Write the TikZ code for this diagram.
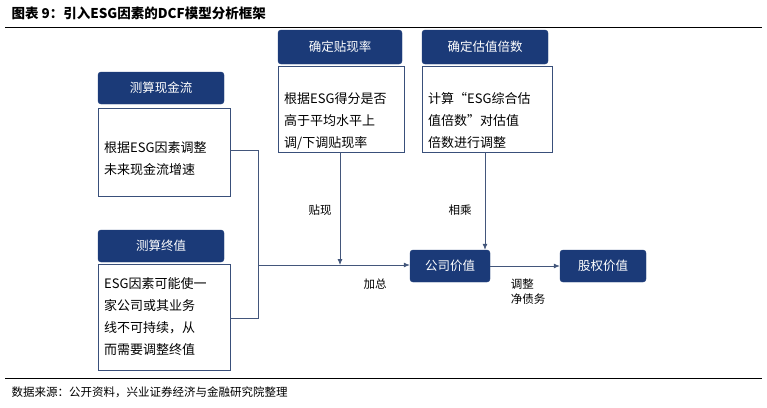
\documentclass[tikz,border=0pt]{standalone}
\usepackage{fontspec}
\setmainfont{Liberation Serif}
\newfontfamily\cjk{Noto Sans CJK SC}
\usetikzlibrary{arrows.meta}
\definecolor{navy}{HTML}{1B3A78}
\begin{document}
\begin{tikzpicture}[x=1pt,y=-1pt,
  hdr/.style={fill=navy,draw=navy,text=white,rounded corners=3pt,font=\cjk\fontsize{12.5}{14}\selectfont,inner sep=0pt},
  body/.style={draw=navy!70!gray,line width=0.6pt,fill=white,inner sep=0pt},
  vbox/.style={fill=navy,draw=navy,text=white,rounded corners=3pt,font=\cjk\fontsize{12.5}{14}\selectfont,inner sep=0pt,minimum height=32pt},
  lab/.style={font=\cjk\fontsize{11.5}{15}\selectfont,align=left},
  btxt/.style={align=left,anchor=north west,inner sep=0pt,font=\cjk\fontsize{13}{22}\selectfont},
  arr/.style={-{Latex[length=6pt,width=5pt]},draw=navy!60!gray,line width=0.8pt},
  ln/.style={draw=navy!60!gray,line width=0.8pt}]
\useasboundingbox (0,0) rectangle (767,407);
\node[anchor=west,font=\cjk\bfseries\fontsize{13.5}{15}\selectfont] (title) at (8,13) {图表 9：引入ESG因素的DCF模型分析框架};
\draw[line width=0.8pt] (5,27) -- (762,27);
\draw[line width=0.6pt] (5,378) -- (762,378);
\node[anchor=west,font=\cjk\fontsize{11.5}{13}\selectfont] (src) at (8,392) {数据来源：公开资料，兴业证券经济与金融研究院整理};
% cash flow
\node[body,minimum width=132pt,minimum height=88pt] (b1) at (164,152) {};
\node[btxt] (t1) at (104,141) {根据ESG因素调整\\未来现金流增速};
\node[hdr,minimum width=126pt,minimum height=32pt] (h1) at (161,88) {测算现金流};
% terminal
\node[body,minimum width=132pt,minimum height=106pt] (b2) at (164,317) {};
\node[btxt] (t2) at (104,277) {ESG因素可能使一\\家公司或其业务\\线不可持续，从\\而需要调整终值};
\node[hdr,minimum width=126pt,minimum height=32pt] (h2) at (161,246) {测算终值};
% discount
\node[body,minimum width=126pt,minimum height=86pt] (b3) at (341,109) {};
\node[btxt] (t3) at (284,92) {根据ESG得分是否\\高于平均水平上\\调/下调贴现率};
\node[hdr,minimum width=124pt,minimum height=34pt] (h3) at (340,47) {确定贴现率};
% multiple
\node[body,minimum width=130pt,minimum height=86pt] (b4) at (487,109) {};
\node[btxt] (t4) at (428,92) {计算“ESG综合估\\值倍数”对估值\\倍数进行调整};
\node[hdr,minimum width=126pt,minimum height=34pt] (h4) at (485,47) {确定估值倍数};
% values
\node[vbox,minimum width=80pt] (cv) at (450,266) {公司价值};
\node[vbox,minimum width=86pt] (ev) at (603,266) {股权价值};
\coordinate (j) at (258,265);
\draw[ln] (b1.east |- 0,150) -- (258,150) -- (258,318) -- (b2.east |- 0,318);
\draw[arr] (j) -- (cv.west |- j);
\draw[arr] (340,152) -- (340,265);
\draw[arr] (b4.south -| 485,0) -- (cv.north -| 485,0);
\draw[arr] (cv.east) -- (ev.west);
\node[lab] (l1) at (320,210) {贴现};
\node[lab] (l2) at (460,210) {相乘};
\node[lab] (l3) at (375,284) {加总};
\node[lab] (l4) at (528,292) {调整\\净债务};
\end{tikzpicture}
\end{document}
